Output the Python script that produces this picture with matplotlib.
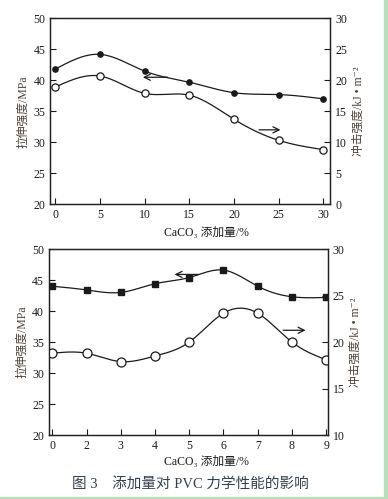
import numpy as np
import matplotlib.pyplot as plt
from matplotlib.patches import Rectangle

plt.rcParams['font.family'] = ['Liberation Serif', 'Noto Sans CJK SC', 'DejaVu Sans']

# top panel: CaCO3 content 0-30 %
top_x = [0, 5, 10, 15, 20, 25, 30]
top_tensile = [41.8, 44.2, 41.5, 39.7, 38.0, 37.7, 37.0]   # MPa, left axis
top_impact = [18.9, 20.7, 17.9, 17.6, 13.7, 10.3, 8.8]     # kJ/m2, right axis

# bottom panel: tick labels as printed (evenly spaced)
bot_labels = ['0', '2', '3', '4', '5', '6', '7', '8', '9']
bot_tensile = [44.0, 43.4, 43.0, 44.4, 45.4, 46.6, 44.0, 42.3, 42.2]
bot_impact = [18.8, 18.8, 17.9, 18.5, 20.0, 23.1, 23.1, 20.0, 18.1]

FS = 8.5
INK = '#1a1a1a'
LABEL_C = '#4a4038'
XLABEL = 'CaCO\u2083 添加量/%'
YLABEL_L = '拉伸强度/MPa'
YLABEL_R = '冲击强度/kJ • m\u207b\u00b2'


def smooth(x, y, n=200):
    # natural cubic spline through the points
    x = np.asarray(x, float)
    y = np.asarray(y, float)
    m = len(x)
    h = np.diff(x)
    A = np.zeros((m, m))
    b = np.zeros(m)
    A[0, 0] = A[-1, -1] = 1
    for i in range(1, m - 1):
        A[i, i - 1] = h[i - 1]
        A[i, i] = 2 * (h[i - 1] + h[i])
        A[i, i + 1] = h[i]
        b[i] = 3 * ((y[i + 1] - y[i]) / h[i] - (y[i] - y[i - 1]) / h[i - 1])
    c = np.linalg.solve(A, b)
    xs = np.linspace(x[0], x[-1], n)
    idx = np.clip(np.searchsorted(x, xs) - 1, 0, m - 2)
    t = xs - x[idx]
    bb = (y[idx + 1] - y[idx]) / h[idx] - h[idx] * (2 * c[idx] + c[idx + 1]) / 3
    d = (c[idx + 1] - c[idx]) / (3 * h[idx])
    ys = y[idx] + bb * t + c[idx] * t ** 2 + d * t ** 3
    return xs, ys


def style(ax):
    ax.tick_params(direction='in', length=4, width=0.8, labelsize=FS, colors=INK)
    for s in ax.spines.values():
        s.set_linewidth(0.9)
        s.set_color('#222222')


def arrow(ax, x0, x1, y):
    ax.annotate('', xy=(x1, y), xytext=(x0, y),
                arrowprops=dict(arrowstyle='->', color=INK, lw=0.9, mutation_scale=11))


fig = plt.figure(figsize=(3.88, 4.99), dpi=100)

# ---- top panel ----
ax1 = fig.add_axes([0.129, 0.591, 0.722, 0.372])
ax2 = ax1.twinx()
xs, ys = smooth(top_x, top_tensile)
ax1.plot(xs, ys, color=INK, lw=0.9)
ax1.plot(top_x, top_tensile, 'o', color=INK, ms=3.8)
xs, ys = smooth(top_x, top_impact)
ax2.plot(xs, ys, color=INK, lw=0.9)
ax2.plot(top_x, top_impact, 'o', mfc='white', mec=INK, mew=0.9, ms=5.2)
ax1.set_xlim(-0.56, 30.75)
ax1.set_ylim(20, 50)
ax2.set_ylim(0, 30)
ax1.set_xticks(top_x)
ax1.set_yticks(range(20, 51, 5))
ax2.set_yticks(range(0, 31, 5))
arrow(ax1, 12.9, 9.5, 40.5)
arrow(ax1, 22.5, 25.5, 32.0)
ax1.set_xlabel(XLABEL, fontsize=FS, color=INK, va='center')
ax1.xaxis.set_label_coords(0.56, -0.155)
ax1.set_ylabel(YLABEL_L, fontsize=FS, color=LABEL_C, labelpad=3)
ax2.set_ylabel(YLABEL_R, fontsize=FS, color=LABEL_C, labelpad=4)
style(ax1)
style(ax2)

# ---- bottom panel ----
bx = np.arange(len(bot_labels))
ax3 = fig.add_axes([0.126, 0.128, 0.719, 0.373])
ax4 = ax3.twinx()
xs, ys = smooth(bx, bot_tensile)
ax3.plot(xs, ys, color=INK, lw=0.9)
ax3.plot(bx, bot_tensile, 's', color=INK, ms=5)
xs, ys = smooth(bx, bot_impact)
ax4.plot(xs, ys, color=INK, lw=0.9)
ax4.plot(bx, bot_impact, 'o', mfc='white', mec=INK, mew=0.9, ms=6.5)
ax3.set_xlim(-0.1, 8.05)
ax3.set_ylim(20, 50)
ax4.set_ylim(10, 30)
ax3.set_xticks(bx)
ax3.set_xticklabels(bot_labels)
ax3.set_yticks(range(20, 51, 5))
ax4.set_yticks(range(10, 31, 5))
arrow(ax3, 4.36, 3.49, 45.9)
arrow(ax3, 6.66, 7.48, 36.9)
ax3.set_xlabel(XLABEL, fontsize=FS, color=INK, va='center')
ax3.xaxis.set_label_coords(0.563, -0.145)
ax3.set_ylabel(YLABEL_L, fontsize=FS, color=LABEL_C, labelpad=3)
ax4.set_ylabel(YLABEL_R, fontsize=FS, color=LABEL_C, labelpad=4)
style(ax3)
style(ax4)

fig.text(190 / 388, 1 - 484 / 499, '图 3    添加量对 PVC 力学性能的影响',
         ha='center', va='center', fontsize=10.5, color='#34404c')

# green page border
fig.patches.append(Rectangle((384 / 388, 0), 4 / 388, 1, transform=fig.transFigure,
                             color='#b8dfba', zorder=-1))
fig.patches.append(Rectangle((0, 0), 1, 2 / 499, transform=fig.transFigure,
                             color='#b8dfba', zorder=-1))

fig.savefig('out.png', dpi=100)
